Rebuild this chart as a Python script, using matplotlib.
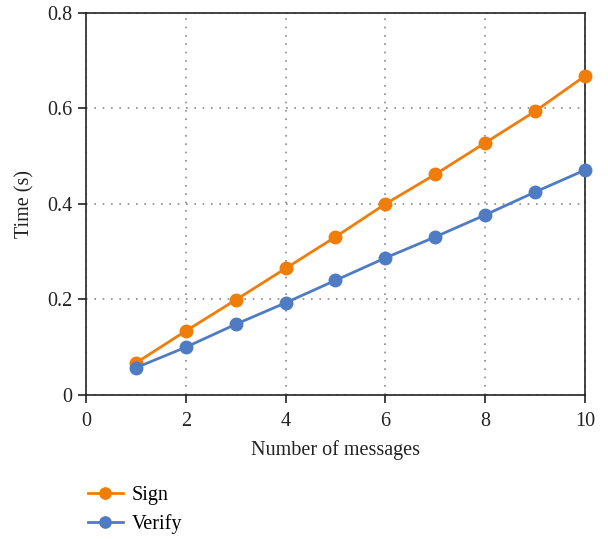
import matplotlib
matplotlib.use("Agg")
import matplotlib.pyplot as plt

# Timing results (seconds) versus number of messages
messages = [1, 2, 3, 4, 5, 6, 7, 8, 9, 10]
sign_time = [0.067, 0.134, 0.199, 0.265, 0.331, 0.400, 0.462, 0.528, 0.594, 0.668]
verify_time = [0.057, 0.100, 0.148, 0.193, 0.240, 0.287, 0.331, 0.377, 0.425, 0.471]

x_ticks = [0, 2, 4, 6, 8, 10]
y_ticks = [0, 0.2, 0.4, 0.6, 0.8]
y_tick_labels = ["0", "0.2", "0.4", "0.6", "0.8"]

plt.rcParams["font.family"] = ["Liberation Serif", "DejaVu Serif"]

fig = plt.figure(figsize=(6.08, 5.39), dpi=100)
ax = fig.add_axes([0.1414, 0.2672, 0.8206, 0.7087])

orange = "#F07D0A"
blue = "#4F7BC3"

ax.plot(messages, sign_time, color=orange, lw=2, marker="o", ms=9,
        label="Sign", clip_on=False, zorder=3)
ax.plot(messages, verify_time, color=blue, lw=2, marker="o", ms=9,
        label="Verify", clip_on=False, zorder=3)

ax.set_xlim(0, 10)
ax.set_ylim(0, 0.8)
ax.set_xticks(x_ticks)
ax.set_xticklabels([str(v) for v in x_ticks])
ax.set_yticks(y_ticks)
ax.set_yticklabels(y_tick_labels)

ax.grid(True, linestyle=(0, (1, 4)), color="#8a8a8a", lw=1.2)
ax.set_axisbelow(True)

for s in ax.spines.values():
    s.set_color("#222222")
    s.set_linewidth(1.2)

ax.tick_params(axis="both", direction="out", length=6, width=1.2,
               colors="#222222", labelsize=14.5, pad=4)
ax.tick_params(axis="x", pad=6)

ax.set_xlabel("Number of messages", fontsize=14.5, color="#222222", labelpad=7)
ax.set_ylabel("Time (s)", fontsize=14.5, color="#222222", labelpad=9)

fig.legend(loc="upper left", bbox_to_anchor=(0.131, 0.114), frameon=False,
           fontsize=14.5, handlelength=1.75, handletextpad=0.45,
           labelspacing=0.45, borderaxespad=0.0, markerscale=0.9)

fig.savefig("out.png", dpi=100)
